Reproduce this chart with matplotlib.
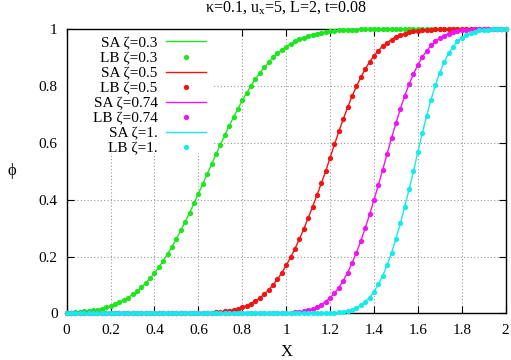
import numpy as np
import matplotlib
matplotlib.use("Agg")
import matplotlib.pyplot as plt
from matplotlib.patches import Rectangle
from matplotlib.ticker import FormatStrFormatter, MultipleLocator

plt.rcParams["font.family"] = ["Liberation Serif", "DejaVu Serif"]
plt.rcParams["mathtext.fontset"] = "custom"
plt.rcParams["mathtext.rm"] = "Liberation Serif"

# sampling grid of the profiles (one dot every 0.02)
x = np.linspace(0.0, 2.0, 101)

# phi(x), SA line and LB dots coincide
phi_03 = [
    0.002, 0.003, 0.004, 0.005, 0.007, 0.009, 0.011, 0.014, 0.017, 0.022,
    0.026, 0.032, 0.039, 0.047, 0.056, 0.067, 0.078, 0.092, 0.107, 0.124,
    0.142, 0.163, 0.185, 0.210, 0.235, 0.263, 0.292, 0.323, 0.354, 0.387,
    0.421, 0.455, 0.490, 0.524, 0.559, 0.593, 0.626, 0.659, 0.690, 0.720,
    0.749, 0.775, 0.801, 0.824, 0.846, 0.865, 0.883, 0.900, 0.914, 0.927,
    0.938, 0.948, 0.957, 0.964, 0.970, 0.976, 0.980, 0.984, 0.987, 0.990,
    0.992, 0.994, 0.995, 0.996, 0.997, 0.998, 0.998, 0.999, 0.999, 0.999,
    0.999, 0.999, 1.0, 1.0, 1.0, 1.0, 1.0, 1.0, 1.0, 1.0,
    1.0, 1.0, 1.0, 1.0, 1.0, 1.0, 1.0, 1.0, 1.0, 1.0,
    1.0, 1.0, 1.0, 1.0, 1.0, 1.0, 1.0, 1.0, 1.0, 1.0,
    1.0,
]
phi_05 = [
    0.0, 0.0, 0.0, 0.0, 0.0, 0.0, 0.0, 0.0, 0.0, 0.0,
    0.0, 0.0, 0.0, 0.0, 0.0, 0.0, 0.0, 0.0, 0.0, 0.0,
    0.0, 0.0, 0.0, 0.0, 0.0, 0.0, 0.0, 0.0, 0.001, 0.001,
    0.001, 0.001, 0.002, 0.003, 0.004, 0.005, 0.007, 0.010, 0.013, 0.017,
    0.022, 0.028, 0.035, 0.044, 0.055, 0.068, 0.083, 0.100, 0.120, 0.143,
    0.169, 0.197, 0.228, 0.261, 0.297, 0.335, 0.375, 0.415, 0.458, 0.500,
    0.548, 0.594, 0.640, 0.683, 0.725, 0.763, 0.798, 0.830, 0.859, 0.884,
    0.905, 0.924, 0.940, 0.952, 0.963, 0.972, 0.979, 0.984, 0.988, 0.992,
    0.994, 0.996, 0.997, 0.998, 0.999, 0.999, 0.999, 1.0, 1.0, 1.0,
    1.0, 1.0, 1.0, 1.0, 1.0, 1.0, 1.0, 1.0, 1.0, 1.0,
    1.0,
]
phi_074 = [
    0.0, 0.0, 0.0, 0.0, 0.0, 0.0, 0.0, 0.0, 0.0, 0.0,
    0.0, 0.0, 0.0, 0.0, 0.0, 0.0, 0.0, 0.0, 0.0, 0.0,
    0.0, 0.0, 0.0, 0.0, 0.0, 0.0, 0.0, 0.0, 0.0, 0.0,
    0.0, 0.0, 0.0, 0.0, 0.0, 0.0, 0.0, 0.0, 0.0, 0.0,
    0.0, 0.0, 0.0, 0.0, 0.0, 0.0, 0.0, 0.0, 0.001, 0.001,
    0.002, 0.003, 0.004, 0.006, 0.008, 0.012, 0.016, 0.023, 0.031, 0.042,
    0.055, 0.072, 0.091, 0.115, 0.144, 0.177, 0.214, 0.255, 0.300, 0.348,
    0.399, 0.452, 0.506, 0.562, 0.617, 0.669, 0.719, 0.765, 0.806, 0.842,
    0.874, 0.901, 0.923, 0.942, 0.956, 0.968, 0.977, 0.984, 0.989, 0.992,
    0.995, 0.997, 0.998, 0.999, 0.999, 0.999, 1.0, 1.0, 1.0, 1.0,
    1.0,
]
phi_1 = [
    0.0, 0.0, 0.0, 0.0, 0.0, 0.0, 0.0, 0.0, 0.0, 0.0,
    0.0, 0.0, 0.0, 0.0, 0.0, 0.0, 0.0, 0.0, 0.0, 0.0,
    0.0, 0.0, 0.0, 0.0, 0.0, 0.0, 0.0, 0.0, 0.0, 0.0,
    0.0, 0.0, 0.0, 0.0, 0.0, 0.0, 0.0, 0.0, 0.0, 0.0,
    0.0, 0.0, 0.0, 0.0, 0.0, 0.0, 0.0, 0.0, 0.0, 0.0,
    0.0, 0.0, 0.0, 0.0, 0.0, 0.0, 0.0, 0.0, 0.001, 0.001,
    0.001, 0.002, 0.004, 0.006, 0.009, 0.013, 0.020, 0.029, 0.041, 0.056,
    0.077, 0.102, 0.133, 0.170, 0.214, 0.263, 0.317, 0.375, 0.437, 0.500,
    0.568, 0.633, 0.695, 0.752, 0.803, 0.847, 0.884, 0.914, 0.937, 0.956,
    0.969, 0.979, 0.986, 0.991, 0.995, 0.997, 0.998, 0.999, 0.999, 1.0,
    1.0,
]

zetas = ["0.3", "0.5", "0.74", "1."]
profiles = [phi_03, phi_05, phi_074, phi_1]
colors = ["#1ee61e", "#f01414", "#f014f0", "#14ebeb"]

fig = plt.figure(figsize=(5.11, 3.6), dpi=100)
ax = fig.add_axes([0.1305, 0.1292, 0.8591, 0.7903])

for zeta, phi, col in zip(zetas, profiles, colors):
    ax.plot(x, phi, color=col, linewidth=1.0, clip_on=False, zorder=3,
            label=f"SA ζ={zeta}")
    ax.plot(x, phi, linestyle="none", marker="o", markersize=3.8,
            markeredgewidth=0, color=col, clip_on=False, zorder=3,
            label=f"LB ζ={zeta}")

ax.set_xlim(0, 2)
ax.set_ylim(0, 1)
ax.xaxis.set_major_locator(MultipleLocator(0.2))
ax.yaxis.set_major_locator(MultipleLocator(0.2))
ax.xaxis.set_major_formatter(FormatStrFormatter("%g"))
ax.yaxis.set_major_formatter(FormatStrFormatter("%g"))
ax.tick_params(direction="in", top=True, right=True, length=5, width=0.8,
               labelsize=11)
ax.tick_params(axis="x", pad=7.5)
ax.tick_params(axis="y", pad=6.5)
for s in ax.spines.values():
    s.set_linewidth(1.0)

ax.set_axisbelow(True)
ax.grid(True, color="#9a9a9a", linestyle=(0, (1, 2)), linewidth=0.8)

# white key background hides the grid like gnuplot does
ax.add_patch(Rectangle((0, 0.564), 0.333, 0.436, transform=ax.transAxes,
                       facecolor="white", edgecolor="none", zorder=1))

leg = ax.legend(loc="upper right", bbox_to_anchor=(0.317, 0.975),
                frameon=False, markerfirst=False, handlelength=2.6,
                handletextpad=0.55, labelspacing=0.09, borderpad=0,
                borderaxespad=0, fontsize=11)
leg._legend_handle_box.get_children()[0].align = "right"

ax.set_title("κ=0.1, u$_\\mathregular{x}$=5, L=2, t=0.08", fontsize=11.5,
             pad=12)
ax.set_xlabel("X", fontsize=12, va="center")
ax.xaxis.set_label_coords(0.5, -0.134)
ax.set_ylabel("ϕ", fontsize=12, rotation=0, va="center", ha="center")
ax.yaxis.set_label_coords(-0.1246, 0.5)

fig.savefig("out.png", dpi=100)
